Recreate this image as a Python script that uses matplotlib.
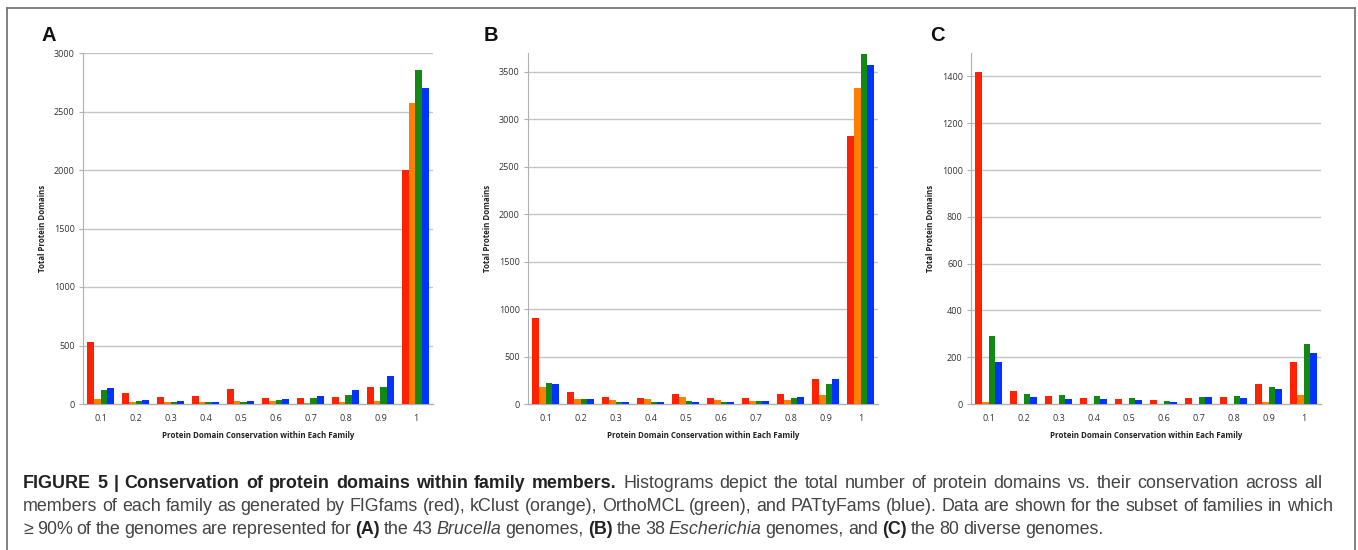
import matplotlib
matplotlib.use('Agg')
import matplotlib.pyplot as plt
import numpy as np

# conservation bins (x categories)
bins = ['0.1', '0.2', '0.3', '0.4', '0.5', '0.6', '0.7', '0.8', '0.9', '1']
methods = ['FIGfams', 'kClust', 'OrthoMCL', 'PATtyFams']
colors = ['#ff2200', '#ff7f00', '#128a12', '#0033ff']

# A - 43 Brucella genomes
a_figfams = [526, 94, 63, 66, 131, 51, 49, 57, 143, 2000]
a_kclust = [40, 20, 14, 14, 23, 23, 11, 14, 23, 2571]
a_orthomcl = [117, 29, 17, 14, 20, 34, 51, 80, 149, 2857]
a_pattyfams = [140, 37, 23, 14, 23, 46, 66, 123, 240, 2703]

# B - 38 Escherichia genomes
b_figfams = [907, 123, 70, 67, 109, 60, 60, 105, 267, 2825]
b_kclust = [180, 53, 42, 49, 74, 39, 32, 46, 91, 3335]
b_orthomcl = [225, 53, 25, 25, 32, 21, 32, 60, 207, 3690]
b_pattyfams = [215, 53, 18, 21, 25, 21, 28, 70, 264, 3575]

# C - 80 diverse genomes
c_figfams = [1418, 54, 36, 27, 21, 16, 27, 31, 87, 181]
c_kclust = [7, 0, 0, 0, 0, 0, 0, 0, 7, 40]
c_orthomcl = [289, 44, 40, 33, 24, 14, 29, 36, 71, 257]
c_pattyfams = [179, 31, 20, 21, 16, 9, 29, 24, 66, 216]

W, H = 1358, 550
fig = plt.figure(figsize=(W / 100, H / 100), dpi=100)


def px(x, y):
    # pixel coords (top-left origin) -> figure fraction
    return x / W, 1 - y / H


panels = [
    ('A', 83, [a_figfams, a_kclust, a_orthomcl, a_pattyfams], 3000, [0, 500, 1000, 1500, 2000, 2500, 3000]),
    ('B', 528, [b_figfams, b_kclust, b_orthomcl, b_pattyfams], 3700, [0, 500, 1000, 1500, 2000, 2500, 3000, 3500]),
    ('C', 971, [c_figfams, c_kclust, c_orthomcl, c_pattyfams], 1500, [0, 200, 400, 600, 800, 1000, 1200, 1400]),
]

grid_col = '#c4c4c4'
x = np.arange(len(bins))
bw = 0.75 / 4

for letter, left, series, ymax, yticks in panels:
    ax = fig.add_axes([left / W, (H - 404) / H, 350 / W, 351 / H])
    for i, (vals, col) in enumerate(zip(series, colors)):
        ax.bar(x - 0.375 + bw * (i + 0.5), vals, width=bw, color=col, zorder=3)
    ax.set_xlim(-0.5, len(bins) - 0.5)
    ax.set_ylim(0, ymax)
    ax.set_xticks(x)
    ax.set_xticklabels(bins)
    ax.set_yticks(yticks)
    ax.set_yticklabels([str(t) for t in yticks])
    for t in yticks[1:]:
        ax.axhline(t, color=grid_col, lw=1.0, zorder=1)
    for s in ['top', 'right']:
        ax.spines[s].set_visible(False)
    ax.spines['left'].set_color('#b0b0b0')
    ax.spines['bottom'].set_color('#b0b0b0')
    ax.spines['left'].set_linewidth(0.8)
    ax.spines['bottom'].set_linewidth(1.0)
    ax.tick_params(axis='x', length=0, pad=7, labelsize=6.5, labelcolor='#333333')
    ax.tick_params(axis='y', length=3, width=0.8, color='#b0b0b0', pad=3,
                   labelsize=6.5, labelcolor='#333333')
    for lab in ax.get_xticklabels() + ax.get_yticklabels():
        lab.set_family('Open Sans')
    ax.set_xlabel('Protein Domain Conservation within Each Family', fontsize=5.7,
                  fontweight='bold', family='Open Sans', color='#222222')
    ax.xaxis.set_label_coords(0.5, -27 / 351)
    ax.set_ylabel('Total Protein Domains', fontsize=5.7, fontweight='bold',
                  family='Open Sans', color='#222222')
    ax.yaxis.set_label_coords(-36 / 350, 0.5)
    lx = {'A': 42, 'B': 484, 'C': 930}[letter]
    fig.text(*px(lx, 41), letter, fontsize=14.5, fontweight='bold',
             family='Liberation Sans', ha='left', va='baseline', color='#111111')

# frame around the figure (open at the bottom)
fig.add_artist(plt.Line2D([7 / W, 7 / W], [0, 1 - 8 / H], transform=fig.transFigure, color='#777777', lw=1.3))
fig.add_artist(plt.Line2D([7 / W, 1355 / W], [1 - 8 / H, 1 - 8 / H], transform=fig.transFigure, color='#777777', lw=1.3))
fig.add_artist(plt.Line2D([1355 / W, 1355 / W], [0, 1 - 8 / H], transform=fig.transFigure, color='#777777', lw=1.3))

# caption with mixed styles
cap_lines = [
    [('FIGURE 5 | Conservation of protein domains within family members.', 'bold', 'normal'),
     (' Histograms depict the total number of protein domains vs. their conservation across all', 'normal', 'normal')],
    [('members of each family as generated by FIGfams (red), kClust (orange), OrthoMCL (green), and PATtyFams (blue). Data are shown for the subset of families in which', 'normal', 'normal')],
    [('\u2265 90% of the genomes are represented for ', 'normal', 'normal'), ('(A)', 'bold', 'normal'),
     (' the 43 ', 'normal', 'normal'), ('Brucella', 'normal', 'italic'), (' genomes, ', 'normal', 'normal'),
     ('(B)', 'bold', 'normal'), (' the 38 ', 'normal', 'normal'), ('Escherichia', 'normal', 'italic'),
     (' genomes, and ', 'normal', 'normal'), ('(C)', 'bold', 'normal'), (' the 80 diverse genomes.', 'normal', 'normal')],
]
baselines = [488, 511, 534]
right_ends = [1322, 1333, 1103]
cap_size = 12.9
fam = ['Liberation Sans', 'DejaVu Sans']
renderer = fig.canvas.get_renderer()


def text_w(s, weight, style):
    t = fig.text(0, 0, s, fontsize=cap_size, fontweight=weight, fontstyle=style, family=fam)
    w = t.get_window_extent(renderer).width
    t.remove()
    return w


def layout_line(runs):
    # natural word positions; returns list of (word, x, gap_index, weight, style), width, gaps
    items = []
    xp = 0.0
    gaps = 0
    for txt, weight, style in runs:
        sp = (text_w('x x x', weight, style) - text_w('xxx', weight, style)) / 2
        body = txt.strip(' ')
        lead = len(txt) - len(txt.lstrip(' '))
        trail = len(txt) - len(txt.rstrip(' '))
        xp += lead * sp
        gaps += lead
        xw = text_w('x', weight, style)
        words = body.split(' ')
        for k, w in enumerate(words):
            if k == 0:
                off = 0.0
            else:
                off = text_w(' '.join(words[:k]) + ' x', weight, style) - xw
                gaps += 1
            items.append((w, xp + off, gaps, weight, style))
        xp += text_w(body, weight, style) + trail * sp
        gaps += trail
    return items, xp, gaps


for runs, yb, rend in zip(cap_lines, baselines, right_ends):
    items, width, gaps = layout_line(runs)
    extra = 0.0
    if rend is not None and gaps > 0:
        extra = (rend - 23 - width) / gaps
    for w, xo, g, weight, style in items:
        col = '#222222' if weight == 'bold' else '#444444'
        fig.text(*px(23 + xo + g * extra, yb), w, fontsize=cap_size, fontweight=weight,
                 fontstyle=style, family=fam, color=col, ha='left', va='baseline')

fig.savefig('out.png', dpi=100)
